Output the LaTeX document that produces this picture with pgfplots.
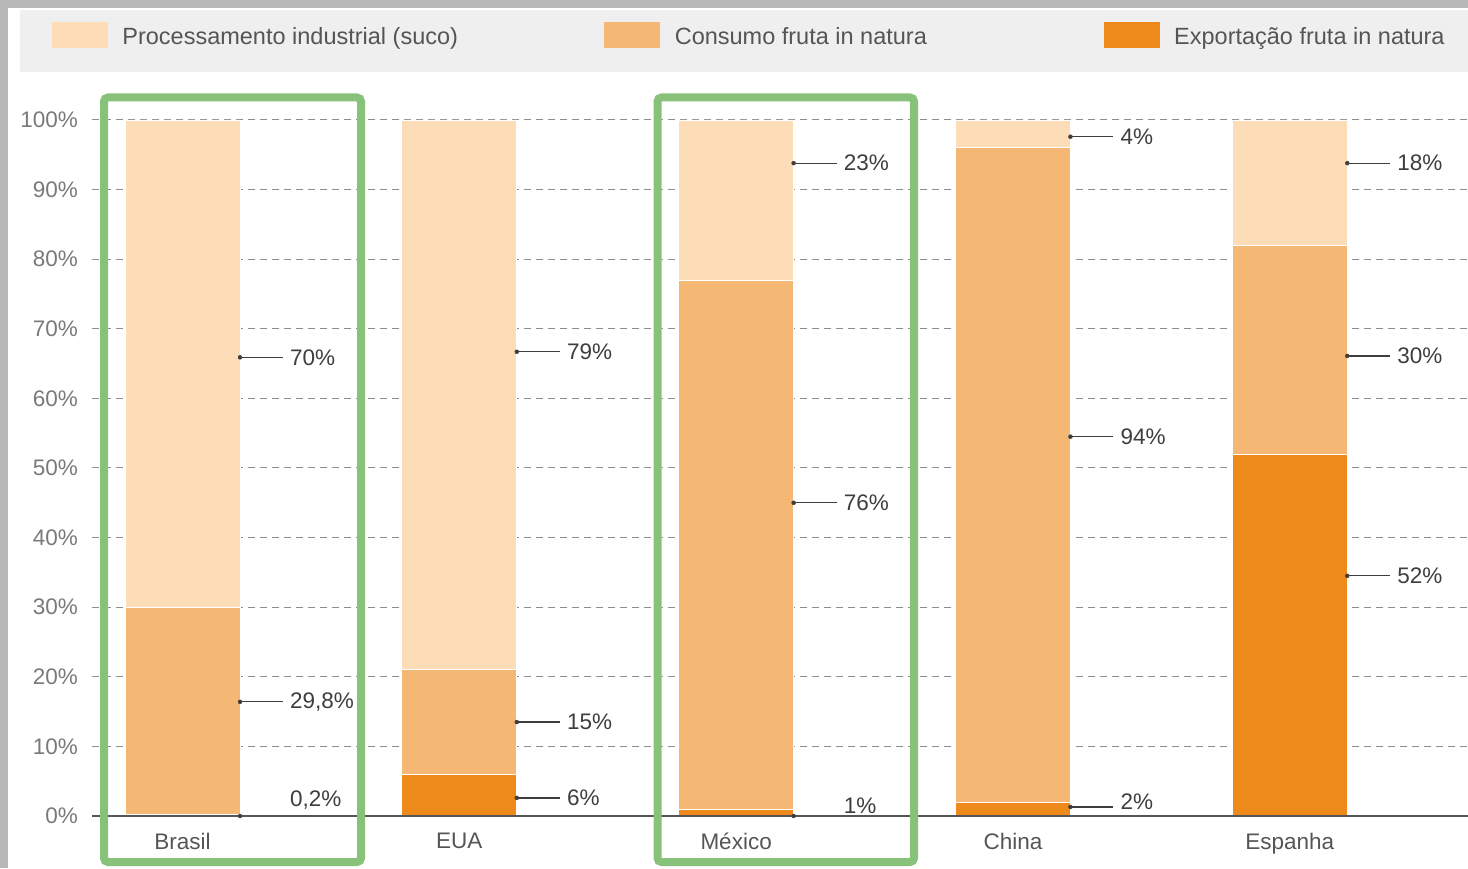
\documentclass[border=0pt]{standalone}
\usepackage{fontspec}
\setmainfont{Liberation Sans}
\usepackage{pgfplots}
\pgfplotsset{compat=1.18}
\usepackage{pgfplotstable}

\definecolor{cProc}{HTML}{FDDDB8}
\definecolor{cCons}{HTML}{F5B874}
\definecolor{cExp}{HTML}{EE8A1C}
\definecolor{cGreen}{HTML}{88C17A}
\definecolor{cFrame}{HTML}{B8B8B8}
\definecolor{cLegBg}{HTML}{EFEFEF}
\definecolor{cText}{HTML}{555555}
\definecolor{cTick}{HTML}{7A7A7A}
\definecolor{cVal}{HTML}{3E3E3E}
\definecolor{cGrid}{HTML}{8E8E8E}
\definecolor{cAxis}{HTML}{555555}

% shares (%), stacked from bottom: export, consumption, processing
\pgfplotstableread{
x exp cons proc
0 0.2 29.8 70
1 6 15 79
2 1 76 23
3 2 94 4
4 52 30 18
}\shares

% leader lines: category, height, length (axis units)
\pgfplotstableread{
x y e
0 65.9 0.155
0 16.4 0.155
0 0 0
1 66.7 0.155
1 13.5 0.155
1 2.6 0.155
2 93.8 0.155
2 45.0 0.155
2 0 0
3 97.6 0.155
3 54.5 0.155
3 1.3 0.155
4 93.8 0.155
4 66.1 0.155
4 34.5 0.155
}\leaders

% value labels
\pgfplotstableread{
x y lab
0 65.9 70
0 16.4 29,8
0 2.3 0,2
1 66.7 79
1 13.5 15
1 2.6 6
2 93.8 23
2 45.0 76
2 1.4 1
3 97.6 4
3 54.5 94
3 2.0 2
4 93.8 18
4 66.1 30
4 34.5 52
}\labels

\newcommand{\bigfont}{\fontsize{22.5}{27}\selectfont}
\newcommand{\legfont}{\fontsize{23.5}{28}\selectfont}

\pgfplotsset{
  mybar/.style={fill=#1, draw=white, line width=0.8pt,
    legend image code/.code={\fill[##1, draw=none] (0pt,-13pt) rectangle (56pt,13pt); \path (70pt,0pt);}},
}

\begin{document}
\begin{tikzpicture}[x=1pt,y=1pt]
\useasboundingbox (0,0) rectangle (1468,868);
\fill[cFrame] (0,0) rectangle (1468,868);
\fill[white] (8,0) rectangle (1468,860);
\fill[cLegBg] (20,796) rectangle (1468,858);

\begin{axis}[
  at={(92pt,52pt)}, anchor=south west,
  scale only axis, width=1376pt, height=696pt,
  xmin=-0.327, xmax=4.644, ymin=0, ymax=100,
  ybar stacked, bar width=115pt,
  axis line style={draw=none},
  major tick length=0pt,
  xtick={0,1,2,3,4},
  xticklabels={Brasil,EUA,México,China,Espanha},
  ytick={0,10,20,30,40,50,60,70,80,90,100},
  yticklabels={0\%,10\%,20\%,30\%,40\%,50\%,60\%,70\%,80\%,90\%,100\%},
  ymajorgrids,
  major grid style={cGrid, line width=1pt, dash pattern=on 7pt off 5pt},
  xticklabel style={font=\bigfont, text=cText, anchor=north, inner sep=0pt, yshift=-17pt},
  yticklabel style={font=\bigfont, text=cTick, anchor=east, inner sep=0pt, xshift=-14pt},
  legend columns=3, reverse legend,
  legend style={at={(-0.02907,1.1222)}, anchor=west, draw=none, fill=none,
    inner sep=0pt, outer sep=0pt, column sep=0pt,
    nodes={inner sep=0pt, text=cText}, font=\legfont},
]
\addplot[mybar=cExp] table[x=x, y=exp] {\shares};
\addlegendentry{\raisebox{-3pt}{Exportação fruta in natura}}
\addplot[mybar=cCons] table[x=x, y=cons] {\shares};
\addlegendentry{\raisebox{-3pt}{\makebox[429pt][l]{Consumo fruta in natura}}}
\addplot[mybar=cProc] table[x=x, y=proc] {\shares};
\addlegendentry{\raisebox{-3pt}{\makebox[482pt][l]{Processamento industrial (suco)}}}
\end{axis}

\begin{axis}[
  at={(92pt,52pt)}, anchor=south west,
  scale only axis, width=1376pt, height=696pt,
  xmin=-0.327, xmax=4.644, ymin=0, ymax=100,
  axis x line=bottom, axis y line=none,
  xtick=\empty, ytick=\empty,
  x axis line style={-, draw=cAxis, line width=1.6pt},
  clip=false,
]
\addplot[only marks, mark=*, mark size=2pt, color=cVal,
  error bars/.cd, x dir=plus, x explicit, error mark=none,
  error bar style={line width=1.2pt, color=cVal}]
  table[x expr=\thisrow{x}+0.2077, y=y, x error=e] {\leaders};
\addplot[draw=none, nodes near coords={\pgfplotspointmeta\%},
  point meta=explicit symbolic,
  nodes near coords style={anchor=west, inner sep=0pt, xshift=50pt, yshift=0pt,
    font=\bigfont, text=cVal}]
  table[x expr=\thisrow{x}+0.2077, y=y, meta=lab] {\labels};
\end{axis}

\draw[cGreen, line width=8pt, rounded corners=4pt] (104,6) rectangle (361,770.5);
\draw[cGreen, line width=8pt, rounded corners=4pt] (657.5,6) rectangle (914,770.5);
\end{tikzpicture}
\end{document}
